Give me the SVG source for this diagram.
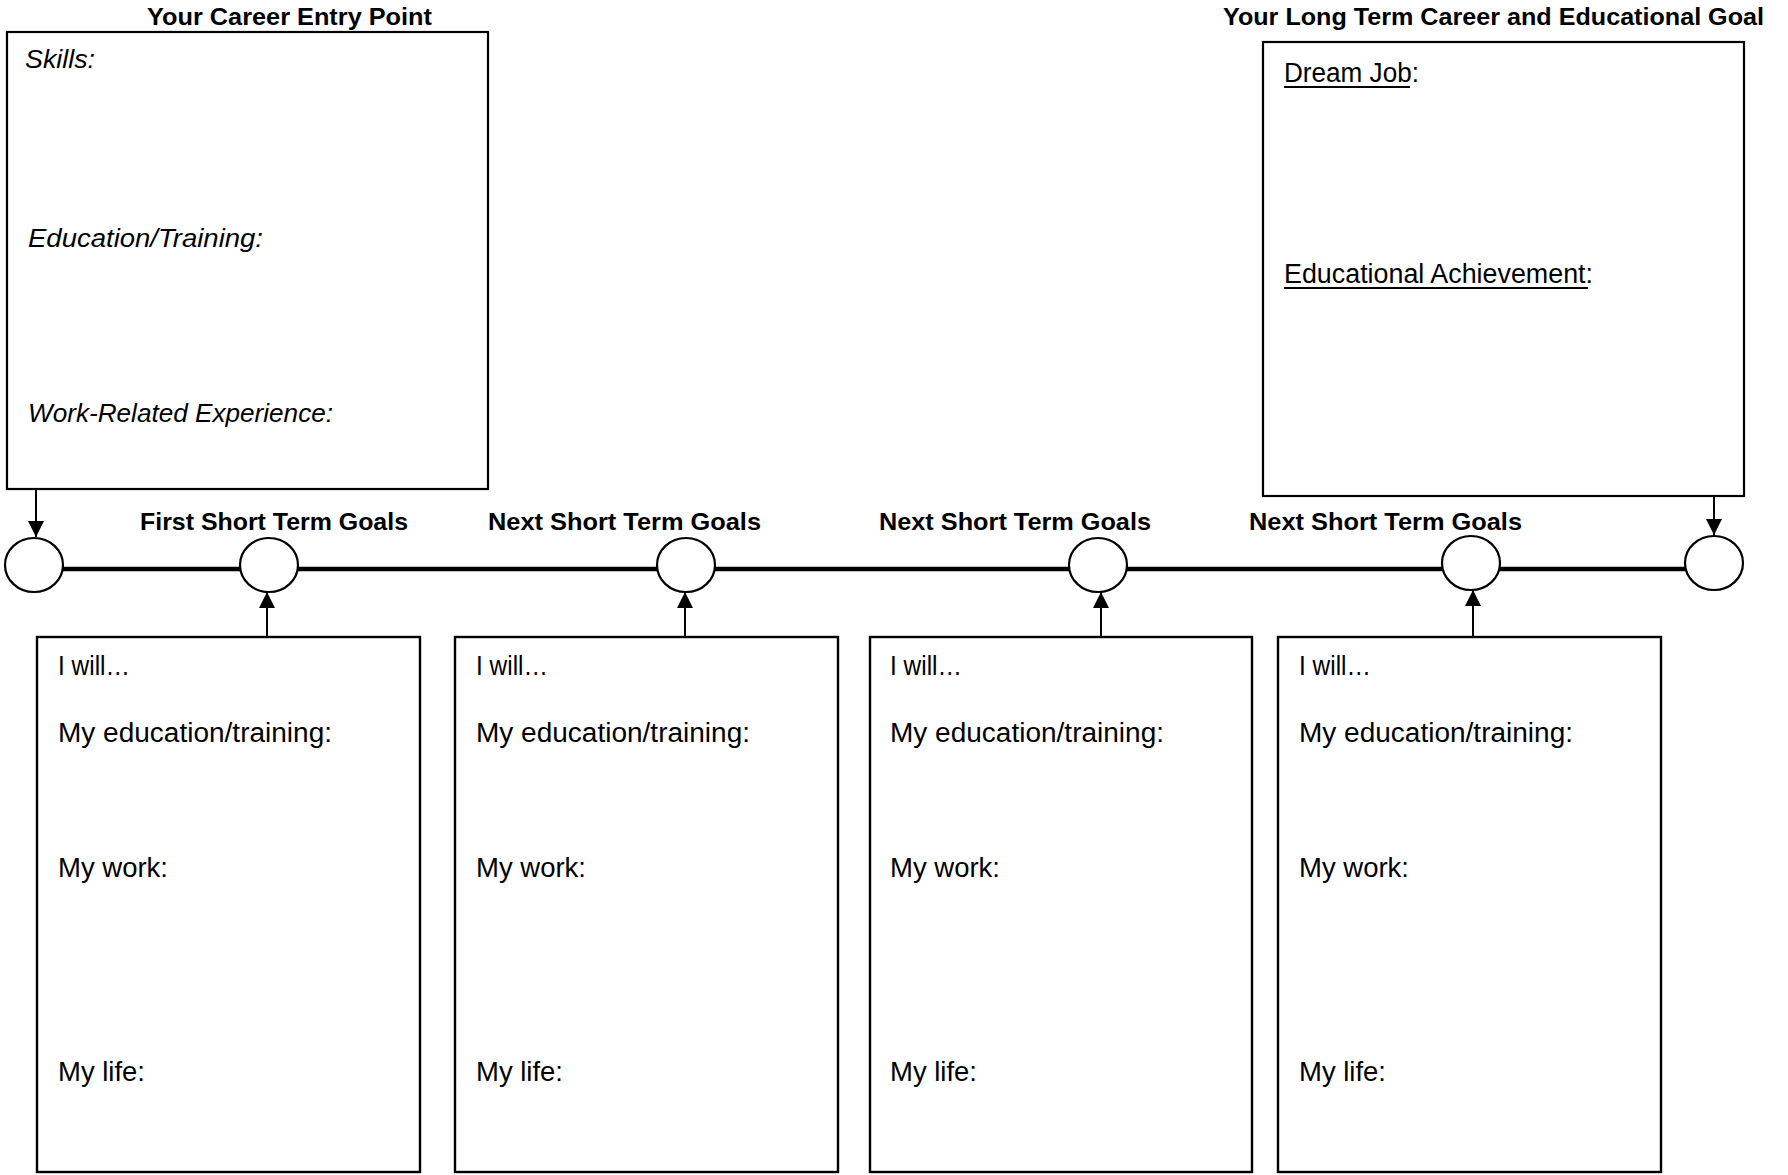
<svg xmlns="http://www.w3.org/2000/svg" width="1788" height="1175" viewBox="0 0 1788 1175">
<defs>
<marker id="ah" viewBox="0 0 10 10" refX="10" refY="5" markerWidth="16" markerHeight="16" markerUnits="userSpaceOnUse" orient="auto">
<path d="M0,0 L10,5 L0,10 z" fill="#000"/>
</marker>
<style>
.box{fill:#fff;stroke:#000;stroke-width:2.2}
.bbox{fill:#fff;stroke:#000;stroke-width:2.4}
.circ{fill:#fff;stroke:#000;stroke-width:2.2}
.conn{stroke:#000;stroke-width:2;fill:none}
.timeline{stroke:#000;stroke-width:4.5}
.title{font-family:"Liberation Sans",Arial,sans-serif;font-weight:bold;font-size:23px;fill:#000}
.label{font-family:"Liberation Sans",Arial,sans-serif;font-weight:bold;font-size:24px;fill:#000}
.it{font-family:"Liberation Sans",Arial,sans-serif;font-style:italic;font-size:26px;fill:#000}
.txt{font-family:"Liberation Sans",Arial,sans-serif;font-size:27px;fill:#000}
.ul{stroke:#000;stroke-width:2}
</style>
</defs>
<rect width="1788" height="1175" fill="#fff"/>

<g id="timeline">
<line class="timeline" x1="60" y1="569" x2="1690" y2="569"/>
</g>

<g id="entry-point">
<text class="title" x="147" y="25" textLength="285" lengthAdjust="spacingAndGlyphs">Your Career Entry Point</text>
<rect class="box" x="7" y="32" width="481" height="457"/>
<text class="it" x="25" y="68" textLength="70" lengthAdjust="spacingAndGlyphs">Skills:</text>
<text class="it" x="28" y="247" textLength="235" lengthAdjust="spacingAndGlyphs">Education/Training:</text>
<text class="it" x="28" y="422" textLength="305" lengthAdjust="spacingAndGlyphs">Work-Related Experience:</text>
</g>

<g id="long-term-goal">
<text class="title" x="1223" y="25" textLength="541" lengthAdjust="spacingAndGlyphs">Your Long Term Career and Educational Goal</text>
<rect class="box" x="1263" y="42" width="481" height="454"/>
<text class="txt" x="1284" y="82" textLength="135" lengthAdjust="spacingAndGlyphs">Dream Job:</text>
<line class="ul" x1="1284" y1="87" x2="1410" y2="87"/>
<text class="txt" x="1284" y="283" textLength="309" lengthAdjust="spacingAndGlyphs">Educational Achievement:</text>
<line class="ul" x1="1284" y1="288" x2="1588" y2="288"/>
</g>

<g id="circle-start"><ellipse class="circ" cx="34" cy="565" rx="29" ry="27"/></g>
<g id="circle-1"><ellipse class="circ" cx="269" cy="565" rx="29" ry="27"/>
<text class="label" x="140" y="530" textLength="268" lengthAdjust="spacingAndGlyphs">First Short Term Goals</text></g>
<g id="circle-2"><ellipse class="circ" cx="686" cy="565" rx="29" ry="27"/>
<text class="label" x="488" y="530" textLength="273" lengthAdjust="spacingAndGlyphs">Next Short Term Goals</text></g>
<g id="circle-3"><ellipse class="circ" cx="1098" cy="565" rx="29" ry="27"/>
<text class="label" x="879" y="530" textLength="272" lengthAdjust="spacingAndGlyphs">Next Short Term Goals</text></g>
<g id="circle-4"><ellipse class="circ" cx="1471" cy="563" rx="29" ry="27"/>
<text class="label" x="1249" y="530" textLength="273" lengthAdjust="spacingAndGlyphs">Next Short Term Goals</text></g>
<g id="circle-end"><ellipse class="circ" cx="1714" cy="563" rx="29" ry="27"/></g>

<g id="goal-box-1">
<rect class="bbox" x="37" y="637" width="383" height="535"/>
<text class="txt" x="58" y="675" textLength="72" lengthAdjust="spacingAndGlyphs">I will…</text>
<text class="txt" x="58" y="742" textLength="274" lengthAdjust="spacingAndGlyphs">My education/training:</text>
<text class="txt" x="58" y="877" textLength="110" lengthAdjust="spacingAndGlyphs">My work:</text>
<text class="txt" x="58" y="1081" textLength="87" lengthAdjust="spacingAndGlyphs">My life:</text>
</g>
<g id="goal-box-2">
<rect class="bbox" x="455" y="637" width="383" height="535"/>
<text class="txt" x="476" y="675" textLength="72" lengthAdjust="spacingAndGlyphs">I will…</text>
<text class="txt" x="476" y="742" textLength="274" lengthAdjust="spacingAndGlyphs">My education/training:</text>
<text class="txt" x="476" y="877" textLength="110" lengthAdjust="spacingAndGlyphs">My work:</text>
<text class="txt" x="476" y="1081" textLength="87" lengthAdjust="spacingAndGlyphs">My life:</text>
</g>
<g id="goal-box-3">
<rect class="bbox" x="870" y="637" width="382" height="535"/>
<text class="txt" x="890" y="675" textLength="72" lengthAdjust="spacingAndGlyphs">I will…</text>
<text class="txt" x="890" y="742" textLength="274" lengthAdjust="spacingAndGlyphs">My education/training:</text>
<text class="txt" x="890" y="877" textLength="110" lengthAdjust="spacingAndGlyphs">My work:</text>
<text class="txt" x="890" y="1081" textLength="87" lengthAdjust="spacingAndGlyphs">My life:</text>
</g>
<g id="goal-box-4">
<rect class="bbox" x="1278" y="637" width="383" height="535"/>
<text class="txt" x="1299" y="675" textLength="72" lengthAdjust="spacingAndGlyphs">I will…</text>
<text class="txt" x="1299" y="742" textLength="274" lengthAdjust="spacingAndGlyphs">My education/training:</text>
<text class="txt" x="1299" y="877" textLength="110" lengthAdjust="spacingAndGlyphs">My work:</text>
<text class="txt" x="1299" y="1081" textLength="87" lengthAdjust="spacingAndGlyphs">My life:</text>
</g>

<g id="connectors">
<line class="conn" x1="36" y1="490" x2="36" y2="537" marker-end="url(#ah)"/>
<line class="conn" x1="1714" y1="497" x2="1714" y2="535" marker-end="url(#ah)"/>
<line class="conn" x1="267" y1="638" x2="267" y2="592" marker-end="url(#ah)"/>
<line class="conn" x1="685" y1="638" x2="685" y2="592" marker-end="url(#ah)"/>
<line class="conn" x1="1101" y1="638" x2="1101" y2="592" marker-end="url(#ah)"/>
<line class="conn" x1="1473" y1="638" x2="1473" y2="590" marker-end="url(#ah)"/>
</g>
</svg>
